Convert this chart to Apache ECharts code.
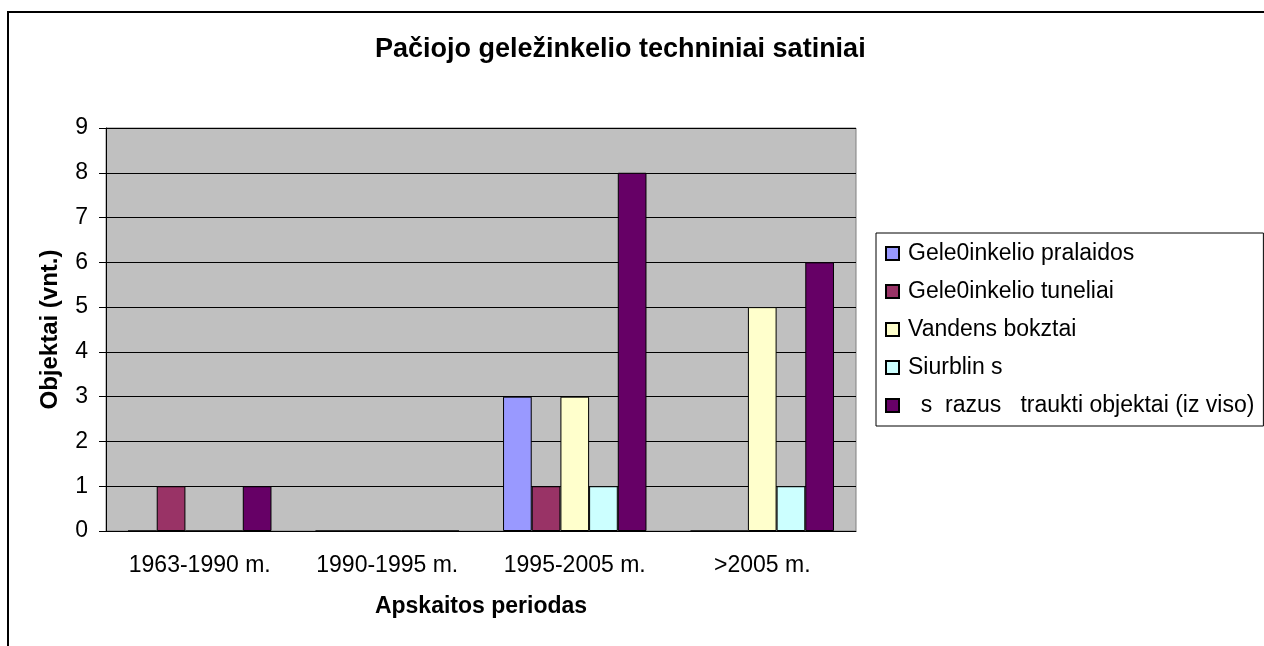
<!DOCTYPE html>
<html>
<head>
<meta charset="utf-8">
<script src="https://cdn.jsdelivr.net/npm/echarts@6/dist/echarts.min.js"></script>
<style>
  html, body { margin: 0; padding: 0; background: #fff; }
  #chart { width: 1264px; height: 646px; }
</style>
</head>
<body>
<div id="chart"></div>
<script>
// periods on the x axis
let periods = ['1963-1990 m.', '1990-1995 m.', '1995-2005 m.', '>2005 m.'];

// series names (kept as in the source chart)
let seriesNames = [
    'Gele0inkelio pralaidos',
    'Gele0inkelio tuneliai',
    'Vandens bokztai',
    'Siurblin s',
    '  s  razus   traukti objektai (iz viso)'
];

// values per series, one per period
let pralaidos = [0, 0, 3, 0];
let tuneliai = [1, 0, 1, 0];
let bokstai = [0, 0, 3, 5];
let siurblines = [0, 0, 1, 1];
let objektai = [1, 0, 8, 6];

let yTicks = [0, 1, 2, 3, 4, 5, 6, 7, 8, 9];

let colors = ['#9999FF', '#993366', '#FFFFCC', '#CCFFFF', '#660066'];

let font = '"Liberation Sans", Arial, sans-serif';

function renderChart() {
    let values = [pralaidos, tuneliai, bokstai, siurblines, objektai];

    let series = values.map((v, i) => ({
        name: seriesNames[i],
        type: 'bar',
        data: v,
        barGap: '0%',
        barCategoryGap: '23.5%',
        itemStyle: {
            color: colors[i],
            borderColor: '#000',
            borderWidth: 1
        }
    }));

    let option = {
        animation: false,
        textStyle: { fontFamily: font },
        title: {
            text: 'Pačiojo geležinkelio techniniai satiniai',
            left: 375,
            top: 36,
            padding: 0,
            textStyle: { fontFamily: font, fontSize: 27, fontWeight: 'bold', color: '#000' }
        },
        // outer chart frame, runs off the right and bottom edges
        graphic: [{
            type: 'polyline',
            shape: { points: [[8, 700], [8, 12], [1300, 12]] },
            style: { fill: 'none', stroke: '#000', lineWidth: 2 },
            silent: true
        }],
        legend: {
            orient: 'vertical',
            left: 876,
            top: 233,
            padding: [9, 9, 9, 9],
            itemGap: 15,
            itemWidth: 13,
            itemHeight: 13,
            icon: 'rect',
            borderColor: '#000',
            borderWidth: 1,
            textStyle: { fontFamily: font, fontSize: 23, color: '#000', padding: [0, 0, 0, 4] }
        },
        grid: {
            left: 106,
            right: 408,
            top: 128,
            bottom: 115,
            show: true,
            backgroundColor: '#C0C0C0',
            borderColor: '#808080',
            borderWidth: 1
        },
        xAxis: {
            type: 'category',
            data: periods,
            name: 'Apskaitos periodas',
            nameLocation: 'middle',
            nameGap: 64,
            nameTextStyle: { fontFamily: font, fontSize: 23, fontWeight: 'bold', color: '#000' },
            axisLine: { lineStyle: { color: '#000', width: 1 } },
            axisTick: { length: 7, lineStyle: { color: '#000' } },
            axisLabel: { fontFamily: font, fontSize: 23, color: '#000', margin: 23 }
        },
        yAxis: {
            type: 'value',
            min: yTicks[0],
            max: yTicks[yTicks.length - 1],
            interval: 1,
            name: 'Objektai (vnt.)',
            nameLocation: 'middle',
            nameGap: 44,
            nameTextStyle: { fontFamily: font, fontSize: 24, fontWeight: 'bold', color: '#000' },
            axisLine: { show: true, lineStyle: { color: '#000', width: 1 } },
            axisTick: { show: true, length: 7, lineStyle: { color: '#000' } },
            axisLabel: { fontFamily: font, fontSize: 23, color: '#000', margin: 18 },
            splitLine: { lineStyle: { color: '#000', width: 1 } }
        },
        series: series
    };

    let myChart = echarts.init(document.querySelector('#chart'));
    myChart.setOption(option);
}

renderChart();
</script>
</body>
</html>
